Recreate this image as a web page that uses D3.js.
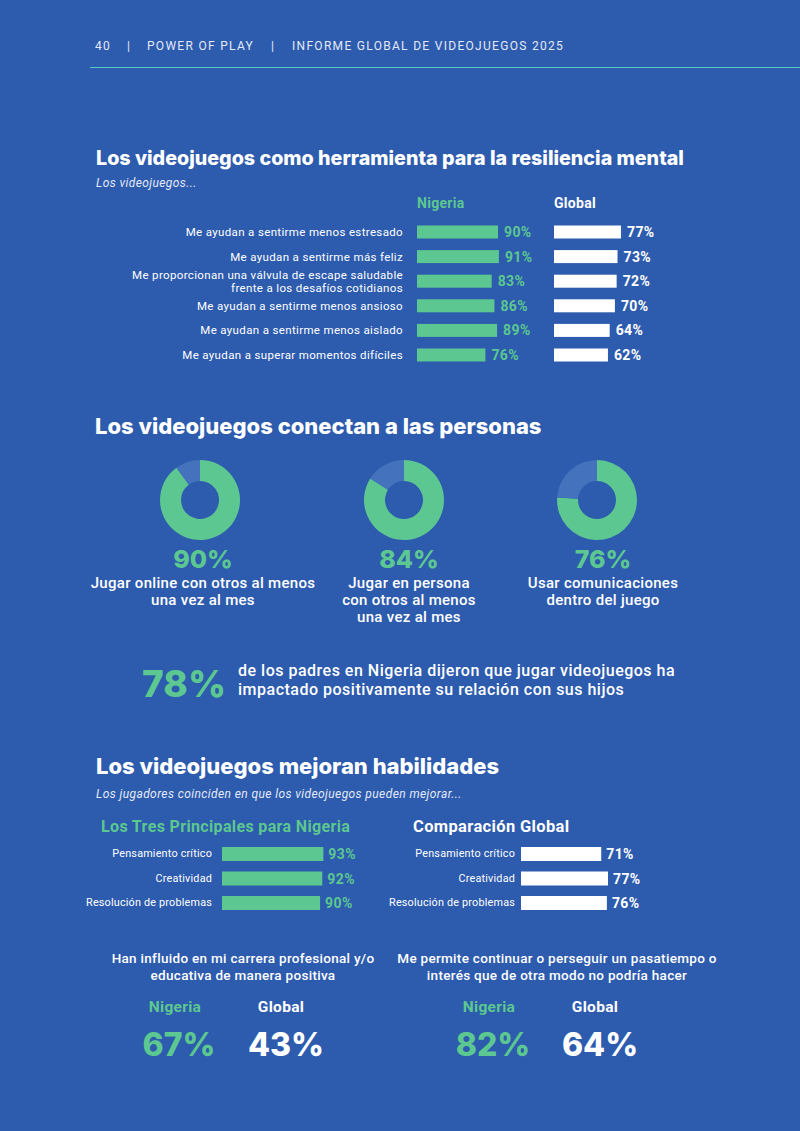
<!DOCTYPE html>
<html lang="es">
<head>
<meta charset="utf-8">
<title>Power of Play - Nigeria</title>
<script src="https://d3js.org/d3.v7.min.js"></script>
<style>
  html, body { margin: 0; padding: 0; background: #2d5bae; }
  svg { display: block; }
  text { font-family: Roboto, "Noto Sans", sans-serif; }
  .title { font-family: Inter, "Open Sans", sans-serif; font-weight: 800; }
</style>
</head>
<body>
<div id="chart"></div>
<script>
// Data
const resilienceLabels = [
  ["Me ayudan a sentirme menos estresado"],
  ["Me ayudan a sentirme más feliz"],
  ["Me proporcionan una válvula de escape saludable", "frente a los desafíos cotidianos"],
  ["Me ayudan a sentirme menos ansioso"],
  ["Me ayudan a sentirme menos aislado"],
  ["Me ayudan a superar momentos difíciles"]
];
const resilienceNigeria = [90, 91, 83, 86, 89, 76];
const resilienceGlobal = [77, 73, 72, 70, 64, 62];

const connectLabels = [
  ["Jugar online con otros al menos", "una vez al mes"],
  ["Jugar en persona", "con otros al menos", "una vez al mes"],
  ["Usar comunicaciones", "dentro del juego"]
];
const connectValues = [90, 84, 76];

const parentsValue = 78;
const parentsText = ["de los padres en Nigeria dijeron que jugar videojuegos ha", "impactado positivamente su relación con sus hijos"];

const skillsLabels = ["Pensamiento crítico", "Creatividad", "Resolución de problemas"];
const skillsNigeria = [93, 92, 90];
const skillsGlobal = [71, 77, 76];

const statQuestions = [
  ["Han influido en mi carrera profesional y/o", "educativa de manera positiva"],
  ["Me permite continuar o perseguir un pasatiempo o", "interés que de otra modo no podría hacer"]
];
const statNigeria = [67, 82];
const statGlobal = [43, 64];

// Setup
const width = 800, height = 1131;
const green = "#5cc790", white = "#ffffff", bg = "#2d5bae", rest = "#4472bd";

const svg = d3.select("#chart").append("svg")
  .attr("width", width).attr("height", height);

svg.append("rect").attr("width", width).attr("height", height).attr("fill", bg);

// Header
const header = svg.append("g").attr("fill", "#e3e9f6").style("font-size", "12px").style("letter-spacing", "1.3px");
[["40", 95], ["|", 127], ["POWER OF PLAY", 147], ["|", 271], ["INFORME GLOBAL DE VIDEOJUEGOS 2025", 292]]
  .forEach(([t, x]) => header.append("text").attr("x", x).attr("y", 50).text(t));
svg.append("line").attr("x1", 90).attr("x2", width).attr("y1", 67.5).attr("y2", 67.5)
  .attr("stroke", "#5ec7c4").attr("stroke-width", 1.2);

function title(t, x, y, size) {
  svg.append("text").attr("class", "title").attr("x", x).attr("y", y)
    .attr("fill", white).style("font-size", size + "px").text(t);
}
function subtitle(t, x, y, size) {
  svg.append("text").attr("x", x).attr("y", y).attr("fill", "#e3e9f6")
    .style("font-size", size + "px").style("font-style", "italic")
    .style("letter-spacing", "0.4px").text(t);
}

// Section 1: resilience
title("Los videojuegos como herramienta para la resiliencia mental", 96, 165, 19.7);
subtitle("Los videojuegos...", 96, 187, 12);

const y1 = d3.scalePoint().domain(d3.range(resilienceLabels.length)).range([232, 355]);
const xNg = d3.scaleLinear().domain([0, 100]).range([0, 90]);
const xGl = d3.scaleLinear().domain([0, 100]).range([0, 87]);
const ngX = 417, glX = 554, barH = 13;

svg.append("text").attr("x", ngX).attr("y", 208).attr("fill", green)
  .style("font-size", "14px").style("font-weight", 700).style("letter-spacing", "0.3px").text("Nigeria");
svg.append("text").attr("x", glX).attr("y", 208).attr("fill", white)
  .style("font-size", "14px").style("font-weight", 700).style("letter-spacing", "0.3px").text("Global");

const s1 = svg.append("g");
s1.selectAll(".rlabel").data(resilienceLabels).join("text")
  .attr("x", 403).attr("y", (d, i) => y1(i) + 4 - (d.length - 1) * 6.5)
  .attr("text-anchor", "end").attr("fill", white)
  .style("font-size", "11.5px").style("letter-spacing", "0.35px")
  .each(function (d) {
    d3.select(this).selectAll("tspan").data(d).join("tspan")
      .attr("x", 403).attr("dy", (l, j) => j ? 13 : 0).text(l => l);
  });

s1.selectAll(".ngbar").data(resilienceNigeria).join("rect")
  .attr("x", ngX).attr("y", (d, i) => y1(i) - barH / 2)
  .attr("width", d => xNg(d)).attr("height", barH).attr("fill", green);
s1.selectAll(".ngval").data(resilienceNigeria).join("text")
  .attr("x", d => ngX + xNg(d) + 6).attr("y", (d, i) => y1(i) + 5)
  .attr("fill", green).style("font-size", "14px").style("font-weight", 700)
  .style("letter-spacing", "0.4px").text(d => d + "%");

s1.selectAll(".glbar").data(resilienceGlobal).join("rect")
  .attr("x", glX).attr("y", (d, i) => y1(i) - barH / 2)
  .attr("width", d => xGl(d)).attr("height", barH).attr("fill", white);
s1.selectAll(".glval").data(resilienceGlobal).join("text")
  .attr("x", d => glX + xGl(d) + 6).attr("y", (d, i) => y1(i) + 5)
  .attr("fill", white).style("font-size", "14px").style("font-weight", 700)
  .style("letter-spacing", "0.4px").text(d => d + "%");

// Section 2: connect
title("Los videojuegos conectan a las personas", 95, 434, 22);

const donutX = d3.scaleOrdinal().domain(d3.range(3)).range([200, 404, 597]);
const pie = d3.pie().sort(null);
const arc = d3.arc().innerRadius(19).outerRadius(40);

const s2 = svg.append("g");
connectValues.forEach((v, i) => {
  const g = s2.append("g").attr("transform", `translate(${donutX(i)},500)`);
  g.selectAll("path").data(pie([v, 100 - v])).join("path")
    .attr("d", arc).attr("fill", (d, j) => j ? rest : green);
  const cx = donutX(i) + [3, 5, 6][i];
  s2.append("text").attr("x", cx).attr("y", 568).attr("text-anchor", "middle")
    .attr("class", "title").attr("fill", green).style("font-size", "25px").text(v + "%");
  s2.append("text").attr("x", cx).attr("y", 588).attr("text-anchor", "middle")
    .attr("fill", white).style("font-size", "15px").style("font-weight", 500)
    .style("letter-spacing", "0.3px")
    .selectAll("tspan").data(connectLabels[i]).join("tspan")
    .attr("x", cx).attr("dy", (l, j) => j ? 17 : 0).text(l => l);
});

svg.append("text").attr("class", "title").attr("x", 226).attr("y", 697).attr("text-anchor", "end")
  .attr("fill", green).style("font-size", "37px").text(parentsValue + "%");
svg.append("text").attr("x", 238).attr("y", 676).attr("fill", white)
  .style("font-size", "16px").style("font-weight", 500).style("letter-spacing", "0.5px")
  .selectAll("tspan").data(parentsText).join("tspan")
  .attr("x", 238).attr("dy", (l, j) => j ? 19 : 0).text(l => l);

// Section 3: skills
title("Los videojuegos mejoran habilidades", 96, 774, 22);
subtitle("Los jugadores coinciden en que los videojuegos pueden mejorar...", 96, 798, 12);

svg.append("text").attr("x", 101).attr("y", 832).attr("fill", green)
  .style("font-size", "16px").style("font-weight", 700).style("letter-spacing", "0.35px")
  .text("Los Tres Principales para Nigeria");
svg.append("text").attr("x", 413).attr("y", 832).attr("fill", white)
  .style("font-size", "16.5px").style("font-weight", 700).style("letter-spacing", "0.35px")
  .text("Comparación Global");

const y3 = d3.scalePoint().domain(skillsLabels).range([854, 903]);
const xSkNg = d3.scaleLinear().domain([0, 100]).range([0, 109]);
const xSkGl = d3.scaleLinear().domain([0, 100]).range([0, 113]);
const skH = 14;

function skillBlock(values, labelX, barX, scale, color) {
  const g = svg.append("g");
  g.selectAll("text.l").data(skillsLabels).join("text").attr("class", "l")
    .attr("x", labelX).attr("y", d => y3(d) + 3).attr("text-anchor", "end")
    .attr("fill", white).style("font-size", "10.8px").style("letter-spacing", "0.2px").text(d => d);
  g.selectAll("rect").data(values).join("rect")
    .attr("x", barX).attr("y", (d, i) => y3(skillsLabels[i]) - skH / 2)
    .attr("width", d => scale(d)).attr("height", skH).attr("fill", color);
  g.selectAll("text.v").data(values).join("text").attr("class", "v")
    .attr("x", d => barX + scale(d) + 5).attr("y", (d, i) => y3(skillsLabels[i]) + 5)
    .attr("fill", color).style("font-size", "14px").style("font-weight", 700)
    .style("letter-spacing", "0.4px").text(d => d + "%");
}
skillBlock(skillsNigeria, 212, 222, xSkNg, green);
skillBlock(skillsGlobal, 515, 521, xSkGl, white);

// Bottom stats
const statX = d3.scaleOrdinal().domain([0, 1]).range([243, 557]);
statQuestions.forEach((q, i) => {
  const cx = statX(i);
  svg.append("text").attr("x", cx).attr("y", 963).attr("text-anchor", "middle")
    .attr("fill", white).style("font-size", "13.5px").style("font-weight", 500)
    .style("letter-spacing", "0.3px")
    .selectAll("tspan").data(q).join("tspan")
    .attr("x", cx).attr("dy", (l, j) => j ? 17 : 0).text(l => l);
  const nx = cx - 68, gx = cx + 38;
  svg.append("text").attr("x", nx).attr("y", 1012).attr("text-anchor", "middle")
    .attr("fill", green).style("font-size", "15.5px").style("font-weight", 700)
    .style("letter-spacing", "0.3px").text("Nigeria");
  svg.append("text").attr("x", gx).attr("y", 1012).attr("text-anchor", "middle")
    .attr("fill", white).style("font-size", "15.5px").style("font-weight", 700)
    .style("letter-spacing", "0.3px").text("Global");
  svg.append("text").attr("class", "title").attr("x", nx + 4).attr("y", 1056).attr("text-anchor", "middle")
    .attr("fill", green).style("font-size", "32px").text(statNigeria[i] + "%");
  svg.append("text").attr("class", "title").attr("x", gx + 5).attr("y", 1056).attr("text-anchor", "middle")
    .attr("fill", white).style("font-size", "32px").text(statGlobal[i] + "%");
});
</script>
</body>
</html>
